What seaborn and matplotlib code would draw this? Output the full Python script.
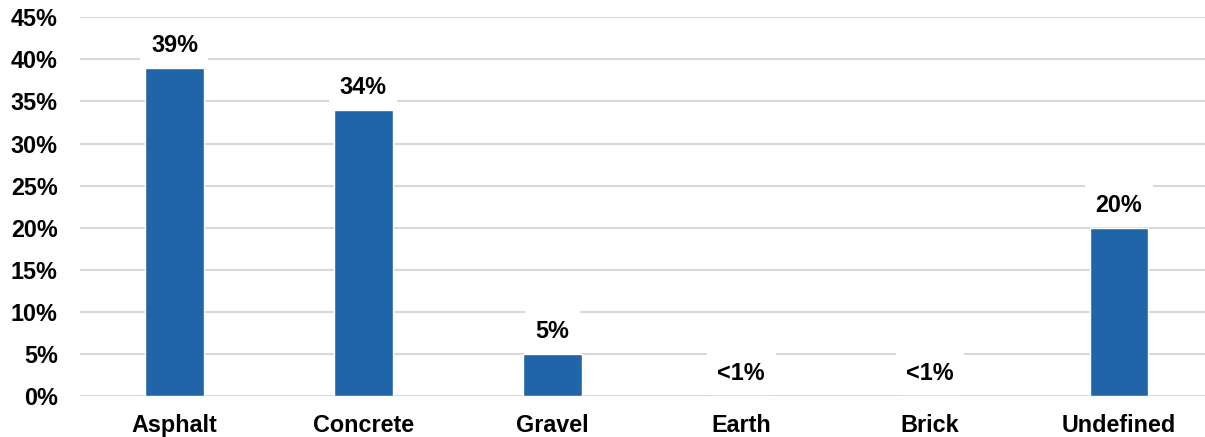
import matplotlib
matplotlib.use("Agg")
import matplotlib.pyplot as plt
import seaborn as sns
import pandas as pd

categories = ["Asphalt", "Concrete", "Gravel", "Earth", "Brick", "Undefined"]
values = [39, 34, 5, 0.05, 0.05, 20]
value_labels = ["39%", "34%", "5%", "<1%", "<1%", "20%"]
y_ticks = [0, 5, 10, 15, 20, 25, 30, 35, 40, 45]
y_tick_labels = [f"{t}%" for t in y_ticks]

sns.set_theme(style="white")
plt.rcParams['font.family'] = ['Liberation Sans', 'DejaVu Sans']

df = pd.DataFrame({"category": categories, "value": values})

fig = plt.figure(figsize=(12.05, 4.37), dpi=100)
ax = fig.add_axes([80/1205, (437-396)/437, (1205-80)/1205, (396-17.3)/437])

sns.barplot(data=df, x="category", y="value", order=categories, color="#2064A9",
            saturation=1, width=0.31, ax=ax, zorder=2)

ax.set_ylim(0, 45)
ax.set_xlim(-0.5, 5.455)
ax.set_yticks(y_ticks)
ax.set_yticklabels(y_tick_labels)
ax.yaxis.grid(True, color="#D9D9D9", linewidth=1.5, zorder=0)
ax.set_axisbelow(True)
for s in ax.spines.values():
    s.set_visible(False)
ax.set_xlabel("")
ax.set_ylabel("")
ax.tick_params(axis="y", length=0, pad=16, labelsize=16.8, labelcolor="black")
ax.tick_params(axis="x", length=0, pad=13, labelsize=16.8, labelcolor="black")
for lab in ax.get_xticklabels() + ax.get_yticklabels():
    lab.set_fontweight("bold")

for i, (v, t) in enumerate(zip(values, value_labels)):
    ax.annotate(t, xy=(i, v), xytext=(0, 16), textcoords="offset points",
                ha="center", va="center", fontsize=16.8, fontweight="bold", color="black",
                bbox=dict(boxstyle="square,pad=0.45", fc="white", ec="none"), zorder=3)

fig.savefig("out.png", dpi=100)
